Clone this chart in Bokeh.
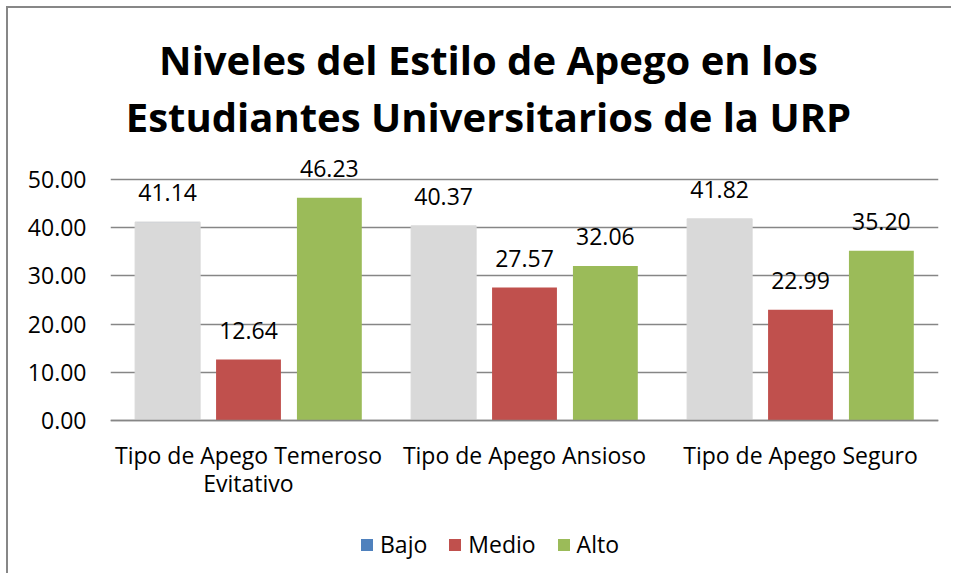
from bokeh.plotting import figure
from bokeh.models import (FactorRange, ColumnDataSource, LabelSet, Label, Legend, LegendItem,
                          FixedTicker, NumeralTickFormatter, Range1d)
from bokeh.transform import dodge
from bokeh.core.properties import value
from bokeh.embed import file_html
from bokeh.resources import INLINE

categories = ["Tipo de Apego Temeroso\nEvitativo", "Tipo de Apego Ansioso", "Tipo de Apego Seguro"]
series_names = ["Bajo", "Medio", "Alto"]
bajo = [41.14, 40.37, 41.82]
medio = [12.64, 27.57, 22.99]
alto = [46.23, 32.06, 35.20]
y_ticks = [0, 10, 20, 30, 40, 50]
title_lines = ["Niveles del Estilo de Apego en los", "Estudiantes Universitarios de la URP"]

bar_colors = ["#D9D9D9", "#C0504D", "#9BBB59"]
legend_colors = ["#4F81BD", "#C0504D", "#9BBB59"]
FONT = "Open Sans"
FS = "23px"

# frame spans the whole canvas height; value 0 sits at 412 px from the canvas top
Y_TOP = 412 / 4.82
Y_BOTTOM = -155 / 4.82

src = ColumnDataSource(dict(
    cat=categories, bajo=bajo, medio=medio, alto=alto,
    bajo_t=[f"{v:.2f}" for v in bajo],
    medio_t=[f"{v:.2f}" for v in medio],
    alto_t=[f"{v:.2f}" for v in alto],
))

p = figure(x_range=FactorRange(*categories, range_padding=0), y_range=Range1d(Y_BOTTOM, Y_TOP),
           width=945, height=567, output_backend="svg", toolbar_location=None,
           min_border_left=102, min_border_right=15, min_border_top=0, min_border_bottom=0)
p.styles = {"margin-left": "6px", "margin-top": "6px",
            "border-left": "2px solid #878787", "border-top": "2px solid #878787"}
p.outline_line_color = None
p.background_fill_color = "white"
p.border_fill_color = "white"

offsets = [-0.293, 0.0, 0.293]
cols = ["bajo", "medio", "alto"]
legend_items = []
for name, off, col, color, lcolor in zip(series_names, offsets, cols, bar_colors, legend_colors):
    x = dodge("cat", off, range=p.x_range)
    if lcolor != color:
        # legend swatch colour differs from the bar colour: a slightly narrower
        # bar in the legend colour sits hidden under the visible bar
        r_leg = p.vbar(x=x, top=col, width=0.225, source=src, fill_color=lcolor, line_color=None)
        r = p.vbar(x=x, top=col, width=0.235, source=src, fill_color=color,
                   line_color=color, line_width=1.2)
    else:
        r = p.vbar(x=x, top=col, width=0.235, source=src, fill_color=color, line_color=None)
        r_leg = r
    legend_items.append(LegendItem(label=name, renderers=[r_leg]))
    p.add_layout(LabelSet(x=x, y=col, text=col + "_t", source=src,
                          text_align="center", text_baseline="alphabetic", y_offset=21,
                          text_font=value(FONT), text_font_size=FS, text_color="#000000"))

legend = Legend(items=legend_items, orientation="horizontal", location=(249, 15),
                glyph_width=15, glyph_height=15, label_standoff=6, spacing=20,
                padding=0, margin=0, border_line_color=None, background_fill_alpha=0,
                label_text_font=FONT, label_text_font_size=FS, label_text_color="#000000")
p.add_layout(legend, "center")

# axes
p.yaxis.ticker = FixedTicker(ticks=y_ticks)
p.yaxis.formatter = NumeralTickFormatter(format="0.00")
p.yaxis.axis_line_color = None
p.yaxis.major_tick_line_color = None
p.yaxis.minor_tick_line_color = None
p.yaxis.major_label_standoff = 18
p.yaxis.major_label_text_font = FONT
p.yaxis.major_label_text_font_size = FS
p.yaxis.major_label_text_color = "#000000"

p.xaxis.fixed_location = 0
p.xaxis.axis_line_color = "#868686"
p.xaxis.axis_line_width = 1.5
p.xaxis.major_tick_line_color = None
p.xaxis.minor_tick_line_color = None
p.xaxis.major_label_standoff = 12
p.xaxis.major_label_text_font = FONT
p.xaxis.major_label_text_font_size = FS
p.xaxis.major_label_text_line_height = 0.9
p.xaxis.major_label_text_color = "#000000"

p.xgrid.grid_line_color = None
p.ygrid.grid_line_color = "#868686"
p.ygrid.grid_line_width = 1.5

# title as two centred lines (screen units from the frame's bottom-left)
for txt, y in zip(title_lines, [516, 459]):
    p.add_layout(Label(x=378, y=y, x_units="screen", y_units="screen", text=txt,
                       text_align="center", text_baseline="alphabetic",
                       text_font=FONT, text_font_style="bold", text_font_size="40px",
                       text_color="#000000"))

open("out.html", "w").write(file_html(p, INLINE))
